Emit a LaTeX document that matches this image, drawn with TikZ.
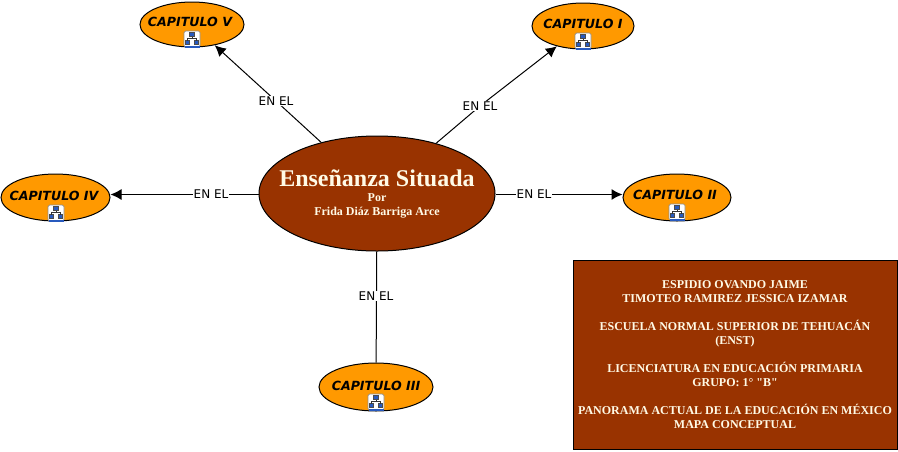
\documentclass[tikz,border=0pt]{standalone}
\usepackage{fontspec}
\setmainfont{Liberation Serif}
\newfontfamily\plainserif{Liberation Serif}
\setsansfont{DejaVu Sans}
\usetikzlibrary{arrows.meta,shapes.geometric}
\definecolor{brn}{RGB}{153,51,0}
\definecolor{org}{RGB}{255,153,0}
\definecolor{cream}{RGB}{255,250,230}
\definecolor{icb}{RGB}{40,90,190}
\newcommand{\mapicon}[2]{%
 \begin{scope}[shift={(#1,#2)}]
  \fill[white,draw=black!45,line width=.7pt,rounded corners=1.5pt] (-8,-8) rectangle (8,8);
  \draw[icb,line width=1.6pt] (-7.5,8) -- (7.5,8);
  \fill[icb,draw=black!70,line width=.4pt] (-2.5,-6.5) rectangle (2.5,-2.5);
  \fill[icb,draw=black!70,line width=.4pt] (-6.5,1.5) rectangle (-2.5,5.5);
  \fill[icb,draw=black!70,line width=.4pt] (2.5,1.5) rectangle (6.5,5.5);
  \draw[black!80,line width=.7pt] (0,-2.5) -- (0,-.5) (-4.5,1.5) -- (-4.5,-.5) -- (4.5,-.5) -- (4.5,1.5);
 \end{scope}}
\tikzset{
 capnode/.style={ellipse,draw=black,fill=org,line width=1pt,inner sep=0pt},
 captext/.style={font=\sffamily\bfseries\itshape\fontsize{12.6}{14}\selectfont,text=black,inner sep=0pt},
 link/.style={draw=black,line width=1pt},
 linka/.style={link,-{Latex[length=11pt,width=11pt]}},
 lab/.style={fill=white,font=\sffamily\fontsize{12}{13}\selectfont,inner sep=1pt},
}
\begin{document}
\begin{tikzpicture}[x=1pt,y=-1pt]
\useasboundingbox[fill=white] (0,0) rectangle (898,451);
\node[ellipse,draw=black,fill=brn,line width=1pt,inner sep=0pt,minimum width=236pt,minimum height=115pt] (main) at (377,193.5) {};
\node[capnode,minimum width=104pt,minimum height=45pt] (c5) at (192,24.5) {};
\node[capnode,minimum width=102pt,minimum height=46pt] (c1) at (583,26) {};
\node[capnode,minimum width=109pt,minimum height=47pt] (c4) at (55.5,197.5) {};
\node[capnode,minimum width=108pt,minimum height=47pt] (c2) at (677,197.5) {};
\node[capnode,minimum width=114pt,minimum height=48pt] (c3) at (376,387) {};
\node[captext] (tc5) at (190,22) {CAPITULO V};
\node[captext] (tc1) at (583,24) {CAPITULO I};
\node[captext] (tc4) at (54,196) {CAPITULO IV};
\node[captext] (tc2) at (675,195) {CAPITULO II};
\node[captext] (tc3) at (376,386) {CAPITULO III};
\mapicon{192}{39}
\mapicon{583}{41}
\mapicon{56}{213}
\mapicon{677}{212}
\mapicon{376}{402}
\node[text=cream,font=\bfseries\fontsize{24}{28}\selectfont,inner sep=0pt] (title) at (377,178) {Enseñanza Situada};
\node[text=cream,font=\bfseries\fontsize{12}{14}\selectfont,inner sep=0pt,align=center] (sub) at (377,206) {Por\\Frida Diáz Barriga Arce};
\coordinate (l5) at (276,101);
\coordinate (l1) at (480,106);
\coordinate (l4) at (211,194.5);
\coordinate (l2) at (534,194.5);
\coordinate (l3) at (376,296);
\draw[link] (main) -- (l5);
\draw[linka] (l5) -- (c5);
\draw[link] (main) -- (l1);
\draw[linka] (l1) -- (c1);
\draw[link] (main.west |- l4) -- (l4);
\draw[linka] (l4) -- (c4.east |- l4);
\draw[link] (main.east |- l2) -- (l2);
\draw[linka] (l2) -- (c2.west |- l2);
\draw[link] (main) -- (c3);
\node[lab] (t5) at (l5) {EN EL};
\node[lab] (t1) at (l1) {EN EL};
\node[lab] (t4) at (l4) {EN EL};
\node[lab] (t2) at (l2) {EN EL};
\node[lab] (t3) at (l3) {EN EL};
\node[draw=black,fill=brn,line width=1pt,minimum width=324pt,minimum height=189pt,inner sep=0pt,text=cream,align=center,font=\bfseries\fontsize{12}{14}\selectfont] (box) at (735,354.5) {ESPIDIO OVANDO JAIME\\TIMOTEO RAMIREZ JESSICA IZAMAR\\[14pt]ESCUELA NORMAL SUPERIOR DE TEHUACÁN\\(ENST)\\[14pt]LICENCIATURA EN EDUCACIÓN PRIMARIA\\GRUPO: 1° {\plainserif\bfseries "B"}\\[14pt]PANORAMA ACTUAL DE LA EDUCACIÓN EN MÉXICO\\MAPA CONCEPTUAL};
\end{tikzpicture}
\end{document}
